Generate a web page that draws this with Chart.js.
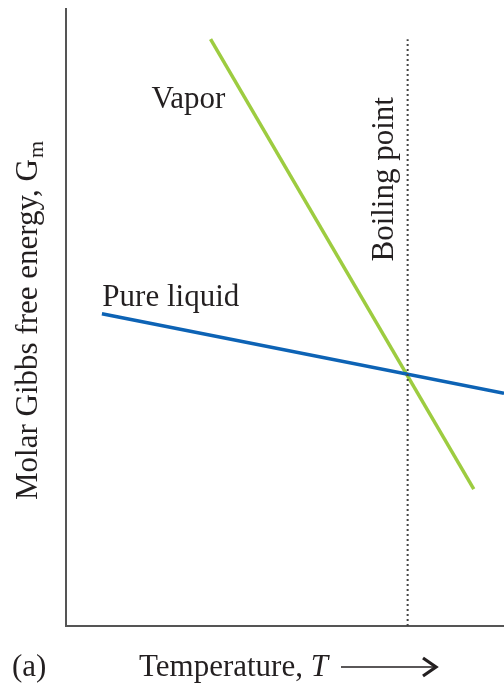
<!DOCTYPE html>
<html>
<head>
<meta charset="utf-8">
<script src="https://cdn.jsdelivr.net/npm/chart.js@4/dist/chart.umd.min.js"></script>
<style>
  html, body { margin: 0; padding: 0; background: #fff; }
  #wrap { width: 504px; height: 685px; position: relative; }
</style>
</head>
<body>
<div id="wrap"><canvas id="gibbsChart"></canvas></div>
<script>
// Schematic values, in arbitrary units (axes have no ticks)
const vaporT = [3.3, 9.31]
const vaporG = [9.51, 2.22]
const liquidT = [0.82, 10]
const liquidG = [5.06, 3.77]
const boilingT = 7.8
const boilingTop = 9.51

const FONT = '"Liberation Serif", "DejaVu Serif", serif'
const SIZE = 31

// labels drawn on top, anchored in data coordinates
const labelPlugin = {
  id: 'labels',
  afterDraw(chart) {
    const { ctx, scales: { x, y } } = chart
    ctx.save()
    ctx.fillStyle = '#231f20'
    ctx.font = SIZE + 'px ' + FONT
    ctx.textBaseline = 'alphabetic'

    ctx.textAlign = 'left'
    ctx.fillText('Vapor', x.getPixelForValue(1.95), y.getPixelForValue(8.4))
    ctx.fillText('Pure liquid', x.getPixelForValue(0.83), y.getPixelForValue(5.19))

    // boiling point, rotated
    ctx.save()
    ctx.translate(x.getPixelForValue(boilingT) - 15, y.getPixelForValue(7.24))
    ctx.rotate(-Math.PI / 2)
    ctx.textAlign = 'center'
    ctx.fillText('Boiling point', 0, 0)
    ctx.restore()

    // y axis title with subscript
    ctx.save()
    ctx.translate(37, 321)
    ctx.rotate(-Math.PI / 2)
    const main = 'Molar Gibbs free energy, G'
    ctx.font = SIZE + 'px ' + FONT
    const w1 = ctx.measureText(main).width
    ctx.font = '22px ' + FONT
    const w2 = ctx.measureText('m').width
    const start = -(w1 + w2) / 2
    ctx.textAlign = 'left'
    ctx.font = SIZE + 'px ' + FONT
    ctx.fillText(main, start, 0)
    ctx.font = '22px ' + FONT
    ctx.fillText('m', start + w1 + 1, 6)
    ctx.restore()

    // bottom labels
    ctx.font = SIZE + 'px ' + FONT
    ctx.textAlign = 'left'
    ctx.fillText('(a)', 12, 676)
    const t1 = 'Temperature, '
    ctx.fillText(t1, 139, 676)
    const tw = ctx.measureText(t1).width
    ctx.font = 'italic ' + SIZE + 'px ' + FONT
    ctx.fillText('T', 139 + tw, 676)

    // arrow
    ctx.strokeStyle = '#231f20'
    ctx.lineWidth = 1.6
    ctx.beginPath()
    ctx.moveTo(341, 667)
    ctx.lineTo(435, 667)
    ctx.stroke()
    ctx.lineWidth = 3.2
    ctx.lineJoin = 'miter'
    ctx.beginPath()
    ctx.moveTo(423, 658)
    ctx.lineTo(436, 667)
    ctx.lineTo(423, 676)
    ctx.stroke()
    ctx.restore()
  }
}

const ctx = document.getElementById('gibbsChart')
new Chart(ctx, {
  type: 'line',
  data: {
    datasets: [
      {
        label: 'Boiling point',
        data: [{ x: boilingT, y: 0 }, { x: boilingT, y: boilingTop }],
        borderColor: '#444',
        borderWidth: 2,
        borderDash: [2, 3],
        pointRadius: 0
      },
      {
        label: 'Pure liquid',
        data: liquidT.map((t, i) => ({ x: t, y: liquidG[i] })),
        borderColor: '#0d63b5',
        borderWidth: 3.5,
        borderCapStyle: 'butt',
        pointRadius: 0
      },
      {
        label: 'Vapor',
        data: vaporT.map((t, i) => ({ x: t, y: vaporG[i] })),
        borderColor: '#9dcc40',
        borderWidth: 3.5,
        borderCapStyle: 'butt',
        pointRadius: 0
      }
    ]
  },
  options: {
    responsive: true,
    maintainAspectRatio: false,
    animation: false,
    layout: { padding: { left: 66, right: 0, top: 9, bottom: 59 } },
    plugins: {
      legend: { display: false },
      tooltip: { enabled: false }
    },
    scales: {
      x: {
        type: 'linear',
        min: 0,
        max: 10,
        ticks: { display: false },
        grid: { display: false, drawTicks: false },
        border: { display: true, color: '#555', width: 2 }
      },
      y: {
        type: 'linear',
        min: 0,
        max: 10,
        ticks: { display: false },
        grid: { display: false, drawTicks: false },
        border: { display: true, color: '#555', width: 2 }
      }
    }
  },
  plugins: [labelPlugin]
})
</script>
</body>
</html>
